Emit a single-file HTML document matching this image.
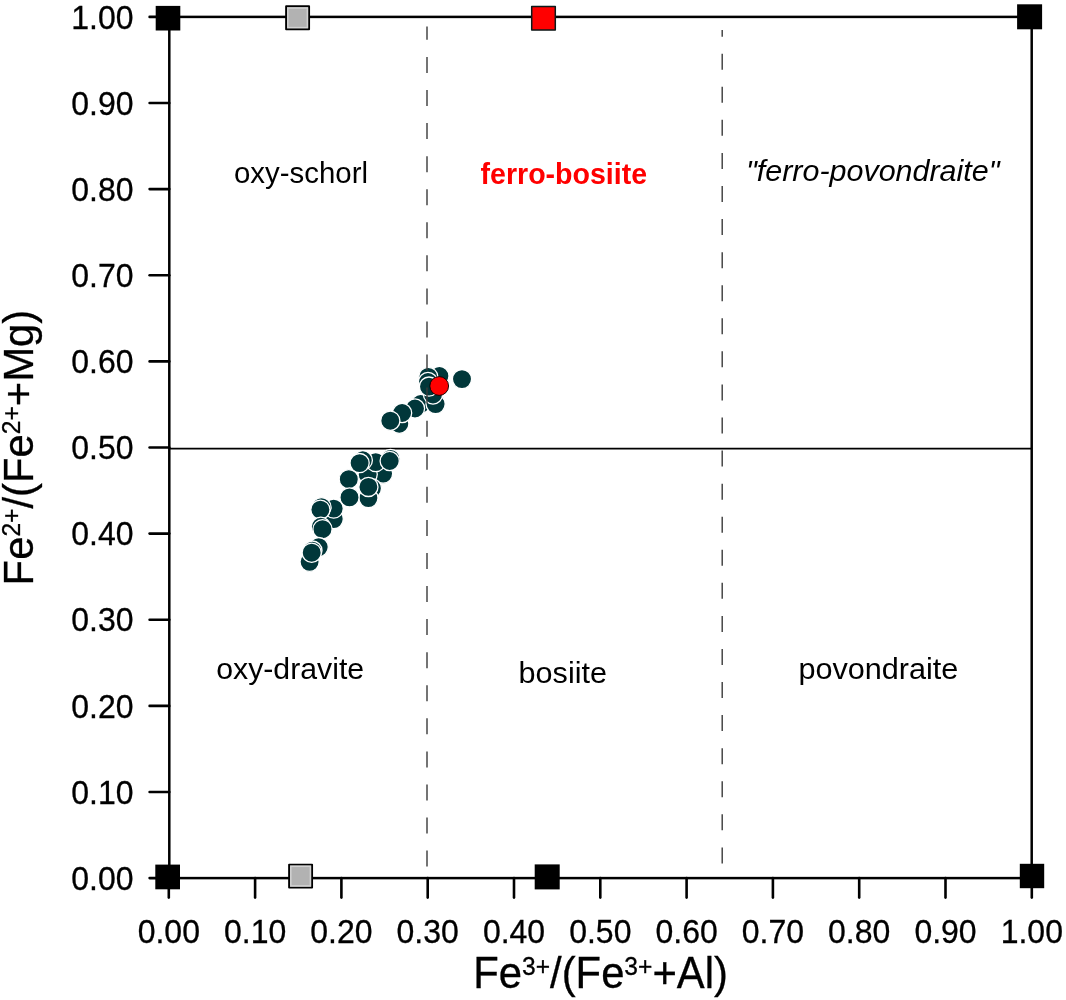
<!DOCTYPE html>
<html lang="en"><head><meta charset="utf-8"><title>Fe2+/(Fe2++Mg) vs Fe3+/(Fe3++Al)</title>
<style>html,body{margin:0;padding:0;background:#fff}svg{display:block}text{font-family:"Liberation Sans",Arial,sans-serif;fill:#000}.tk{font-size:32px;stroke:#000;stroke-width:.3px}.ti{font-size:41.8px;stroke:#000;stroke-width:.3px}.lb{font-size:29.5px}</style></head><body>
<svg width="1066" height="1000" viewBox="0 0 1066 1000">
<rect width="1066" height="1000" fill="#fff"/>
<g stroke="#000" stroke-width="2.6" stroke-linecap="round" fill="none">
<line x1="149.6" y1="878.1" x2="169.3" y2="878.1"/>
<line x1="149.6" y1="792.0" x2="169.3" y2="792.0"/>
<line x1="149.6" y1="705.9" x2="169.3" y2="705.9"/>
<line x1="149.6" y1="619.7" x2="169.3" y2="619.7"/>
<line x1="149.6" y1="533.6" x2="169.3" y2="533.6"/>
<line x1="149.6" y1="447.5" x2="169.3" y2="447.5"/>
<line x1="149.6" y1="361.4" x2="169.3" y2="361.4"/>
<line x1="149.6" y1="275.3" x2="169.3" y2="275.3"/>
<line x1="149.6" y1="189.1" x2="169.3" y2="189.1"/>
<line x1="149.6" y1="103.0" x2="169.3" y2="103.0"/>
<line x1="149.6" y1="16.9" x2="169.3" y2="16.9"/>
<line x1="168.8" y1="878.1" x2="168.8" y2="897.6"/>
<line x1="255.1" y1="878.1" x2="255.1" y2="897.6"/>
<line x1="341.4" y1="878.1" x2="341.4" y2="897.6"/>
<line x1="427.7" y1="878.1" x2="427.7" y2="897.6"/>
<line x1="514.0" y1="878.1" x2="514.0" y2="897.6"/>
<line x1="600.3" y1="878.1" x2="600.3" y2="897.6"/>
<line x1="686.6" y1="878.1" x2="686.6" y2="897.6"/>
<line x1="772.9" y1="878.1" x2="772.9" y2="897.6"/>
<line x1="859.2" y1="878.1" x2="859.2" y2="897.6"/>
<line x1="945.5" y1="878.1" x2="945.5" y2="897.6"/>
<line x1="1031.8" y1="878.1" x2="1031.8" y2="897.6"/>
</g>
<line x1="169.3" y1="448.6" x2="1031.7" y2="448.6" stroke="#000" stroke-width="1.8"/>
<g fill="#01373a" stroke="#fff" stroke-width="1.3">
<circle cx="399.3" cy="423.7" r="9.6"/>
<circle cx="420.7" cy="404.0" r="9.6"/>
<circle cx="415.0" cy="408.5" r="9.6"/>
<circle cx="402.1" cy="413.0" r="9.6"/>
<circle cx="390.3" cy="420.7" r="9.6"/>
<circle cx="435.6" cy="404.1" r="9.6"/>
<circle cx="433.0" cy="394.5" r="9.6"/>
<circle cx="439.4" cy="376.0" r="9.6"/>
<circle cx="428.3" cy="376.9" r="9.6"/>
<circle cx="428.0" cy="382.0" r="9.6"/>
<circle cx="429.0" cy="386.6" r="9.6"/>
<circle cx="462.0" cy="379.1" r="9.6"/>
<circle cx="383.1" cy="473.6" r="9.6"/>
<circle cx="367.7" cy="474.3" r="9.6"/>
<circle cx="390.5" cy="458.9" r="9.6"/>
<circle cx="375.7" cy="462.1" r="9.6"/>
<circle cx="389.7" cy="461.0" r="9.6"/>
<circle cx="362.8" cy="460.3" r="9.6"/>
<circle cx="359.6" cy="463.1" r="9.6"/>
<circle cx="348.8" cy="479.2" r="9.6"/>
<circle cx="371.9" cy="488.3" r="9.6"/>
<circle cx="368.4" cy="498.1" r="9.6"/>
<circle cx="368.4" cy="486.9" r="9.6"/>
<circle cx="349.5" cy="497.4" r="9.6"/>
<circle cx="333.7" cy="519.1" r="9.6"/>
<circle cx="333.7" cy="508.6" r="9.6"/>
<circle cx="321.5" cy="507.2" r="9.6"/>
<circle cx="320.4" cy="509.7" r="9.6"/>
<circle cx="320.8" cy="526.8" r="9.6"/>
<circle cx="322.5" cy="529.2" r="9.6"/>
<circle cx="318.7" cy="547.1" r="9.6"/>
<circle cx="312.4" cy="550.6" r="9.6"/>
<circle cx="309.6" cy="561.8" r="9.6"/>
<circle cx="311.7" cy="552.7" r="9.6"/>
</g>
<circle cx="439.2" cy="386" r="9.4" fill="#ff0000" stroke="#000" stroke-width="0.9"/>
<g stroke="#3a3a3a" stroke-width="1.4" fill="none" stroke-dasharray="16 17.07">
<line x1="427" y1="866.6" x2="427" y2="26.4"/>
<line x1="722.2" y1="863.4" x2="722.2" y2="30"/>
</g>
<rect x="169.3" y="16.9" width="862.4" height="861.2" fill="none" stroke="#000" stroke-width="2.5"/>
<rect x="155.7" y="5.9" width="24.6" height="24.6" fill="#000"/>
<rect x="1017.1" y="4.3" width="25" height="25" fill="#000"/>
<rect x="155.3" y="864.6" width="24.7" height="24.7" fill="#000"/>
<rect x="1019.8" y="863.8" width="24.4" height="24.4" fill="#000"/>
<rect x="534.7" y="864.4" width="25" height="25" fill="#000"/>
<rect x="286.1" y="6.3" width="23" height="23" fill="#b2b2b2" stroke="#000" stroke-width="1.9" stroke-linejoin="round"/>
<rect x="287.8" y="8.0" width="19.6" height="19.6" fill="none" stroke="#d2d2d2" stroke-width="1.5"/>
<rect x="289.1" y="864.6" width="23" height="23" fill="#b2b2b2" stroke="#000" stroke-width="1.9" stroke-linejoin="round"/>
<rect x="290.8" y="866.3" width="19.6" height="19.6" fill="none" stroke="#d2d2d2" stroke-width="1.5"/>
<rect x="531.7" y="6.5" width="23.6" height="23.6" fill="#ff0000" stroke="#0a1a1a" stroke-width="1.5" stroke-linejoin="round"/>
<g class="tk" text-anchor="end">
<text transform="translate(133.5 889.7) scale(1 1.03)">0.00</text>
<text transform="translate(133.5 803.6) scale(1 1.03)">0.10</text>
<text transform="translate(133.5 717.5) scale(1 1.03)">0.20</text>
<text transform="translate(133.5 631.3) scale(1 1.03)">0.30</text>
<text transform="translate(133.5 545.2) scale(1 1.03)">0.40</text>
<text transform="translate(133.5 459.1) scale(1 1.03)">0.50</text>
<text transform="translate(133.5 373.0) scale(1 1.03)">0.60</text>
<text transform="translate(133.5 286.9) scale(1 1.03)">0.70</text>
<text transform="translate(133.5 200.7) scale(1 1.03)">0.80</text>
<text transform="translate(133.5 114.6) scale(1 1.03)">0.90</text>
<text transform="translate(133.5 28.5) scale(1 1.03)">1.00</text>
</g>
<g class="tk" text-anchor="middle">
<text transform="translate(168.8 943) scale(1 1.03)">0.00</text>
<text transform="translate(255.1 943) scale(1 1.03)">0.10</text>
<text transform="translate(341.4 943) scale(1 1.03)">0.20</text>
<text transform="translate(427.7 943) scale(1 1.03)">0.30</text>
<text transform="translate(514.0 943) scale(1 1.03)">0.40</text>
<text transform="translate(600.3 943) scale(1 1.03)">0.50</text>
<text transform="translate(686.6 943) scale(1 1.03)">0.60</text>
<text transform="translate(772.9 943) scale(1 1.03)">0.70</text>
<text transform="translate(859.2 943) scale(1 1.03)">0.80</text>
<text transform="translate(945.5 943) scale(1 1.03)">0.90</text>
<text transform="translate(1031.8 943) scale(1 1.03)">1.00</text>
</g>
<text class="ti" transform="translate(473.3 988.3) scale(1 1.04)">Fe<tspan font-size="24.6" dy="-13">3+</tspan><tspan dy="13">/(Fe</tspan><tspan font-size="24.6" dy="-13">3+</tspan><tspan dy="13">+Al)</tspan></text>
<text class="ti" transform="translate(33 585.4) rotate(-90) scale(1 1.03)">Fe<tspan font-size="24.6" dy="-13">2+</tspan><tspan dy="13">/(Fe</tspan><tspan font-size="24.6" dy="-13">2+</tspan><tspan dy="13">+Mg)</tspan></text>
<g class="lb">
<text x="234" y="182.8" textLength="134" lengthAdjust="spacingAndGlyphs">oxy-schorl</text>
<text x="480.6" y="183.5" textLength="166.5" lengthAdjust="spacingAndGlyphs" font-weight="bold" style="fill:#ff0000">ferro-bosiite</text>
<text x="746" y="181" textLength="253.5" lengthAdjust="spacingAndGlyphs" font-style="italic">"ferro-povondraite"</text>
<text x="216.2" y="679.4" textLength="148" lengthAdjust="spacingAndGlyphs">oxy-dravite</text>
<text x="518.6" y="683" textLength="88.4" lengthAdjust="spacingAndGlyphs">bosiite</text>
<text x="798.4" y="679.3" textLength="160" lengthAdjust="spacingAndGlyphs">povondraite</text>
</g>
</svg></body></html>
